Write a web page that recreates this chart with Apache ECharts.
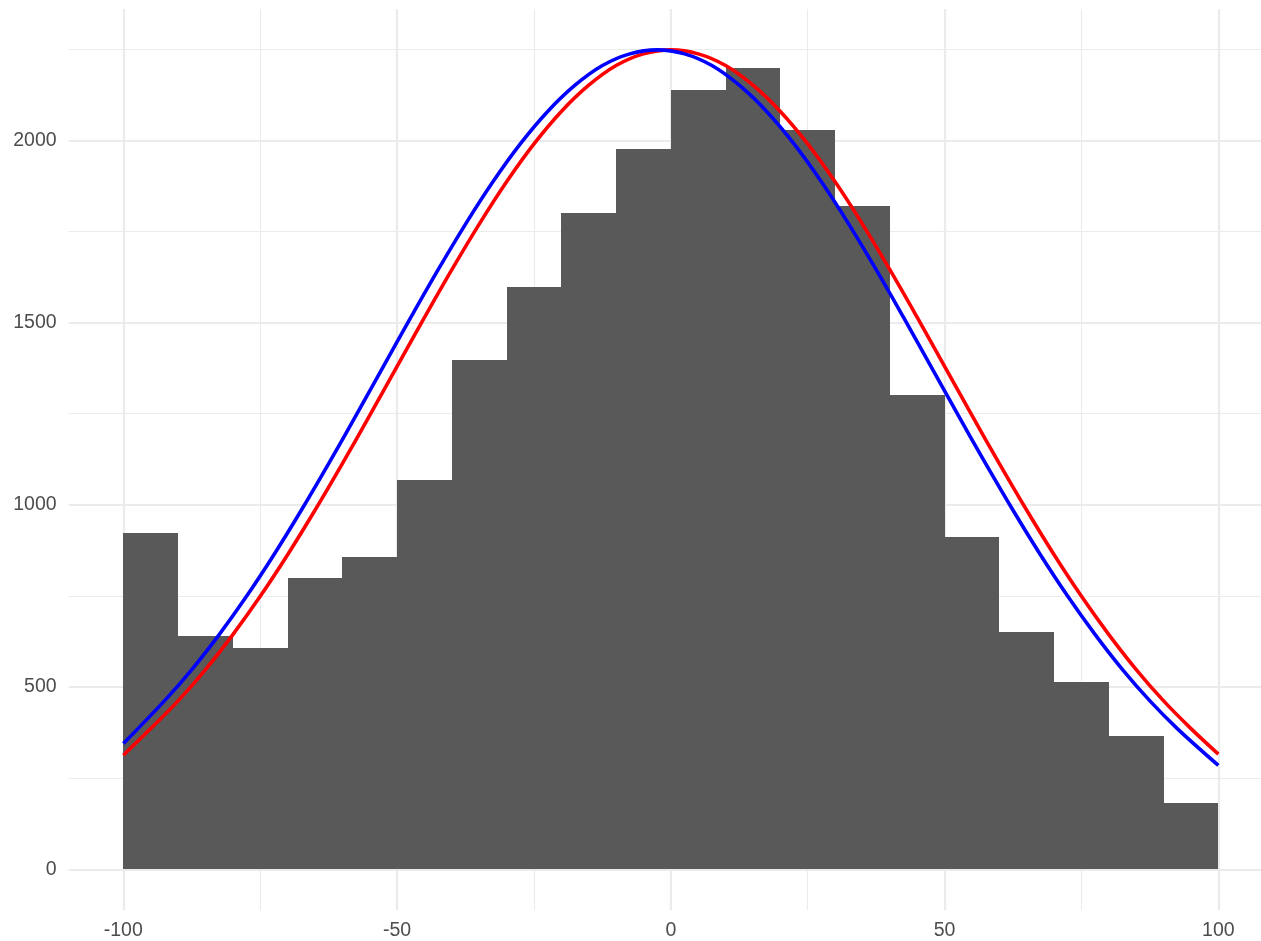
<!DOCTYPE html>
<html>
<head>
<meta charset="utf-8">
<script src="https://cdn.jsdelivr.net/npm/echarts@6/dist/echarts.min.js"></script>
<style>
html, body { margin: 0; padding: 0; background: #fff; }
#chart { width: 1261px; height: 941px; }
</style>
</head>
<body>
<div id="chart"></div>
<script>
// histogram bins (left edge) and counts
let binLeft = [-100, -90, -80, -70, -60, -50, -40, -30, -20, -10, 0, 10, 20, 30, 40, 50, 60, 70, 80, 90];
let binCounts = [923, 641, 607, 799, 858, 1068, 1397, 1598, 1801, 1976, 2138, 2198, 2028, 1819, 1301, 912, 652, 515, 366, 181];
let binWidth = 10;

// red curve, read every 5 units
let redX = [-100, -95, -90, -85, -80, -75, -70, -65, -60, -55, -50, -45, -40, -35, -30, -25, -20, -15, -10, -5,
    0, 5, 10, 15, 20, 25, 30, 35, 40, 45, 50, 55, 60, 65, 70, 75, 80, 85, 90, 95, 100];
let redY = [313, 386, 462, 548, 644, 749, 863, 985, 1113, 1245, 1380, 1514, 1645, 1770, 1886, 1990, 2079, 2151, 2205, 2237,
    2248, 2237, 2205, 2151, 2079, 1990, 1886, 1770, 1645, 1514, 1380, 1245, 1113, 985, 863, 749, 644, 548, 462, 386, 316];

// blue curve, read every 5 units around its peak (x = -2.5)
let blueX = [-100, -92.5, -87.5, -82.5, -77.5, -72.5, -67.5, -62.5, -57.5, -52.5, -47.5, -42.5, -37.5, -32.5, -27.5,
    -22.5, -17.5, -12.5, -7.5, -2.5, 2.5, 7.5, 12.5, 17.5, 22.5, 27.5, 32.5, 37.5, 42.5, 47.5, 52.5, 57.5, 62.5, 67.5, 72.5,
    77.5, 82.5, 87.5, 92.5, 100];
let blueY = [345, 462, 548, 644, 749, 863, 985, 1113, 1245, 1380, 1514, 1645, 1770, 1886, 1990,
    2079, 2151, 2205, 2237, 2248, 2237, 2205, 2151, 2079, 1990, 1886, 1770, 1645, 1514, 1380, 1245, 1113, 985, 863, 749,
    644, 548, 462, 386, 285];

// axis breaks
let xBreaks = [-100, -50, 0, 50, 100];
let yBreaks = [0, 500, 1000, 1500, 2000];

let chart = echarts.init(document.getElementById("chart"));

let gridColor = '#ebebeb';
let labelStyle = { color: '#4d4d4d', fontSize: 19.5, fontFamily: 'Liberation Sans, Arial, sans-serif' };
let xStep = xBreaks[1] - xBreaks[0];
let yStep = yBreaks[1] - yBreaks[0];

let option = {
    animation: false,
    backgroundColor: '#ffffff',
    grid: [
        // vertical grid lines + x labels
        { left: 123.3, width: 1095, top: 9, bottom: 31, outerBoundsMode: 'none', containLabel: false },
        // horizontal grid lines + y labels + data
        { left: 68.6, width: 1204.5, top: -42, bottom: 71.7, outerBoundsMode: 'none', containLabel: false }
    ],
    xAxis: [
        {
            gridIndex: 0, type: 'value',
            min: xBreaks[0], max: xBreaks[xBreaks.length - 1], interval: xStep,
            axisLine: { show: false }, axisTick: { show: false },
            axisLabel: Object.assign({ margin: 11, formatter: v => String(v) }, labelStyle),
            splitLine: { show: true, lineStyle: { color: gridColor, width: 2.2 } },
            minorTick: { show: false, splitNumber: 2 },
            minorSplitLine: { show: true, lineStyle: { color: gridColor, width: 1.1 } }
        },
        {
            gridIndex: 1, type: 'value', min: -110, max: 110, show: false
        }
    ],
    yAxis: [
        { gridIndex: 0, type: 'value', min: 0, max: 1, show: false },
        {
            gridIndex: 1, type: 'value',
            min: yBreaks[0], max: yBreaks[yBreaks.length - 1] + yStep, interval: yStep,
            axisLine: { show: false }, axisTick: { show: false },
            axisLabel: Object.assign({
                margin: 12,
                formatter: v => (yBreaks.indexOf(v) >= 0 ? String(v) : '')
            }, labelStyle),
            splitLine: { show: true, lineStyle: { color: gridColor, width: 2.2 } },
            minorTick: { show: false, splitNumber: 2 },
            minorSplitLine: { show: true, lineStyle: { color: gridColor, width: 1.1 } }
        }
    ],
    series: [
        {
            type: 'custom',
            xAxisIndex: 1, yAxisIndex: 1,
            data: binLeft.map((b, i) => [b, binCounts[i]]),
            encode: { x: 0, y: 1 },
            renderItem: function (params, api) {
                let x0 = api.value(0);
                let top = api.coord([x0, api.value(1)]);
                let bottom = api.coord([x0 + binWidth, 0]);
                // snap to whole pixels so neighbouring bars leave no seam
                let left = Math.round(top[0]), right = Math.round(bottom[0]);
                let y0 = Math.round(top[1]), y1 = Math.round(bottom[1]);
                return {
                    type: 'rect',
                    shape: { x: left, y: y0, width: right - left, height: y1 - y0 },
                    style: { fill: '#595959' }
                };
            },
            z: 2
        },
        {
            type: 'line',
            xAxisIndex: 1, yAxisIndex: 1,
            data: redX.map((x, i) => [x, redY[i]]),
            smooth: 0.35,
            showSymbol: false,
            lineStyle: { color: '#ff0000', width: 3.6 },
            z: 3
        },
        {
            type: 'line',
            xAxisIndex: 1, yAxisIndex: 1,
            data: blueX.map((x, i) => [x, blueY[i]]),
            smooth: 0.35,
            showSymbol: false,
            lineStyle: { color: '#0000ff', width: 3.6 },
            z: 4
        }
    ]
};

chart.setOption(option);
</script>
</body>
</html>
